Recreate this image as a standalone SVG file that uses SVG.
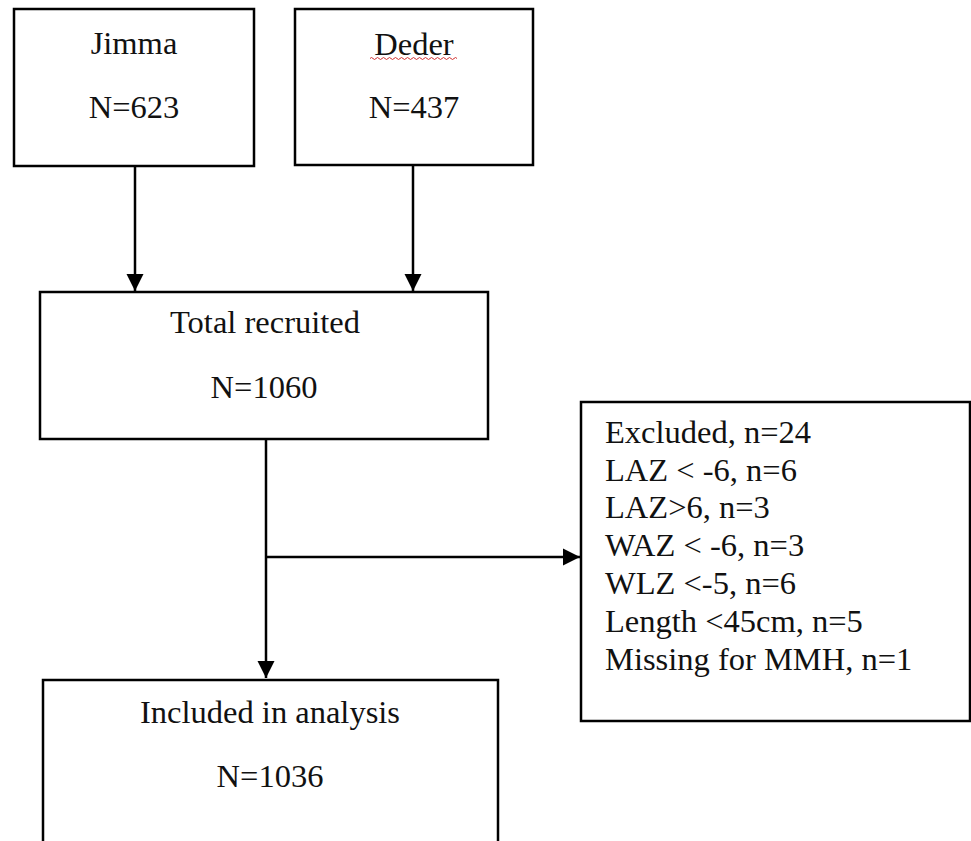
<svg xmlns="http://www.w3.org/2000/svg" width="971" height="841" viewBox="0 0 971 841">
<style>
.box{fill:#fff;stroke:#000;stroke-width:2.5}
.t{font-family:"Liberation Serif","Times New Roman",serif;font-size:32.5px;fill:#111}
.c{text-anchor:middle}
.ln{fill:none;stroke:#000;stroke-width:2.5}
</style>
<defs>
<marker id="ah" viewBox="0 0 10 10" refX="10" refY="5" markerWidth="7" markerHeight="7" markerUnits="strokeWidth" orient="auto">
<path d="M0,0 L10,5 L0,10 Z" fill="#000"/>
</marker>
</defs>
<rect width="971" height="841" fill="#fff"/>
<g id="connectors">
<line class="ln" x1="135" y1="166" x2="135" y2="291" marker-end="url(#ah)"/>
<line class="ln" x1="413" y1="166" x2="413" y2="291" marker-end="url(#ah)"/>
<line class="ln" x1="266" y1="439" x2="266" y2="678" marker-end="url(#ah)"/>
<line class="ln" x1="266" y1="557" x2="580" y2="557" marker-end="url(#ah)"/>
</g>
<g id="jimma">
<rect class="box" x="14" y="9" width="240" height="157"/>
<text class="t c" x="134" y="54">Jimma</text>
<text class="t c" x="134" y="118">N=623</text>
</g>
<g id="deder">
<rect class="box" x="295" y="9" width="238" height="156"/>
<text class="t c" x="414" y="55">Deder</text>
<path d="M370,58.5 q1.5,-2 3,0 t3,0 t3,0 t3,0 t3,0 t3,0 t3,0 t3,0 t3,0 t3,0 t3,0 t3,0 t3,0 t3,0 t3,0 t3,0 t3,0 t3,0 t3,0 t3,0 t3,0 t3,0 t3,0 t3,0 t3,0 t3,0 t3,0 t3,0 t3,0" fill="none" stroke="#d03030" stroke-width="1"/>
<text class="t c" x="414" y="118">N=437</text>
</g>
<g id="total">
<rect class="box" x="40" y="292" width="448" height="147"/>
<text class="t c" x="265" y="333">Total recruited</text>
<text class="t c" x="264" y="398">N=1060</text>
</g>
<g id="excluded">
<rect class="box" x="581" y="402" width="389" height="319"/>
<text class="t" x="605" y="443">Excluded, n=24</text>
<text class="t" x="605" y="481">LAZ &lt; -6, n=6</text>
<text class="t" x="605" y="518">LAZ&gt;6, n=3</text>
<text class="t" x="605" y="556">WAZ &lt; -6, n=3</text>
<text class="t" x="605" y="594">WLZ &lt;-5, n=6</text>
<text class="t" x="605" y="632">Length &lt;45cm, n=5</text>
<text class="t" x="605" y="670">Missing for MMH, n=1</text>
</g>
<g id="included">
<rect class="box" x="43" y="680" width="455" height="180"/>
<text class="t c" x="270" y="723">Included in analysis</text>
<text class="t c" x="270" y="787">N=1036</text>
</g>
</svg>
